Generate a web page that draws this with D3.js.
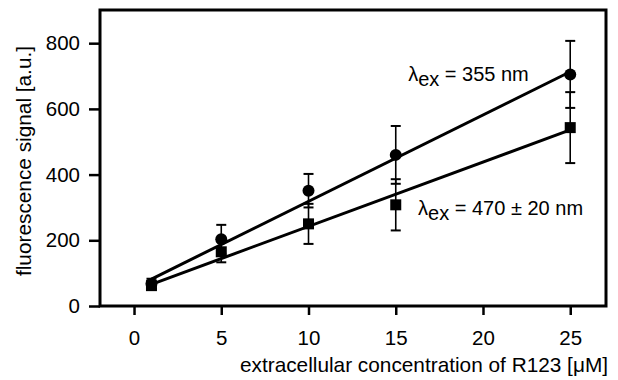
<!DOCTYPE html>
<html>
<head>
<meta charset="utf-8">
<script src="https://cdn.jsdelivr.net/npm/d3@7"></script>
<style>
  body { margin: 0; background: #fff; }
  svg { display: block; font-family: "Liberation Sans", Arial, Helvetica, sans-serif; }
  .axis path { display: none; }
  .axis line { stroke: #000; stroke-width: 2.5; }
  .axis text { font-size: 20.5px; fill: #000; }
</style>
</head>
<body>
<svg class="chart" width="618" height="380"></svg>
<script>
// concentrations [uM]
var concentrations = [1, 5, 10, 15, 25];

// lambda_ex = 355 nm (circles)
var signal355 = [68, 203, 351, 460, 705];
var error355 = [15, 44, 51, 88, 102];

// lambda_ex = 470 +- 20 nm (squares)
var signal470 = [62, 165, 250, 308, 543];
var error470 = [10, 32, 61, 78, 108];

// fitted lines, value at first and last concentration
var fitX = [1, 25];
var fit355 = [82, 713];
var fit470 = [66, 536];

var xTicks = [0, 5, 10, 15, 20, 25];
var yTicks = [0, 200, 400, 600, 800];

var svg = d3.select('.chart');

var plot = { left: 100, top: 10, right: 606, bottom: 306 };

var x = d3.scaleLinear().domain([-1.95, 27.05]).range([plot.left, plot.right]);
var y = d3.scaleLinear().domain([0, 901]).range([plot.bottom, plot.top]);

// axes
svg.append('g')
  .attr('class', 'axis')
  .attr('transform', 'translate(0,' + plot.bottom + ')')
  .call(d3.axisBottom(x).tickValues(xTicks).tickSize(9).tickPadding(15));

svg.append('g')
  .attr('class', 'axis')
  .attr('transform', 'translate(' + plot.left + ',0)')
  .call(d3.axisLeft(y).tickValues(yTicks).tickSize(11).tickPadding(9));

// frame
svg.append('rect')
  .attr('x', plot.left)
  .attr('y', plot.top)
  .attr('width', plot.right - plot.left)
  .attr('height', plot.bottom - plot.top)
  .style('fill', 'none')
  .style('stroke', '#000')
  .style('stroke-width', 3);

// axis titles
svg.append('text')
  .attr('x', 608)
  .attr('y', 372)
  .style('text-anchor', 'end')
  .style('font-size', '20.8px')
  .text('extracellular concentration of R123 [\u03BCM]');

svg.append('text')
  .attr('transform', 'translate(31,161) rotate(-90)')
  .style('text-anchor', 'middle')
  .style('font-size', '20.8px')
  .text('fluorescence signal [a.u.]');

// fit lines
function drawFit(vals) {
  var pts = fitX.map(function(c, i) { return [x(c), y(vals[i])]; });
  svg.append('path')
    .attr('d', d3.line()(pts))
    .style('fill', 'none')
    .style('stroke', '#000')
    .style('stroke-width', 3);
}
drawFit(fit355);
drawFit(fit470);

// error bars
function drawErrors(vals, errs) {
  var g = svg.append('g').style('stroke', '#000');
  concentrations.forEach(function(c, i) {
    var cx = x(c);
    var y0 = y(vals[i] - errs[i]);
    var y1 = y(vals[i] + errs[i]);
    g.append('line').attr('x1', cx).attr('x2', cx).attr('y1', y0).attr('y2', y1)
      .style('stroke-width', 1.6);
    [y0, y1].forEach(function(yy) {
      g.append('line').attr('x1', cx - 5).attr('x2', cx + 5).attr('y1', yy).attr('y2', yy)
        .style('stroke-width', 2);
    });
  });
}
drawErrors(signal355, error355);
drawErrors(signal470, error470);

// markers
svg.append('g').selectAll('rect')
  .data(concentrations)
  .join('rect')
  .attr('x', function(d) { return x(d) - 5.5; })
  .attr('y', function(d, i) { return y(signal470[i]) - 5.5; })
  .attr('width', 11)
  .attr('height', 11)
  .style('fill', '#000');

svg.append('g').selectAll('circle')
  .data(concentrations)
  .join('circle')
  .attr('cx', function(d) { return x(d); })
  .attr('cy', function(d, i) { return y(signal355[i]); })
  .attr('r', 6)
  .style('fill', '#000');

// annotations
function label(cx, cy, rest) {
  var t = svg.append('text')
    .attr('x', x(cx))
    .attr('y', y(cy))
    .style('font-size', '20px');
  t.append('tspan').text('\u03BB');
  t.append('tspan').attr('dy', 5).text('ex');
  t.append('tspan').attr('dy', -5).text(' ' + rest);
}
label(15.71, 685, '= 355 nm');
label(16.28, 277, '= 470 \u00B1 20 nm');
</script>
</body>
</html>
